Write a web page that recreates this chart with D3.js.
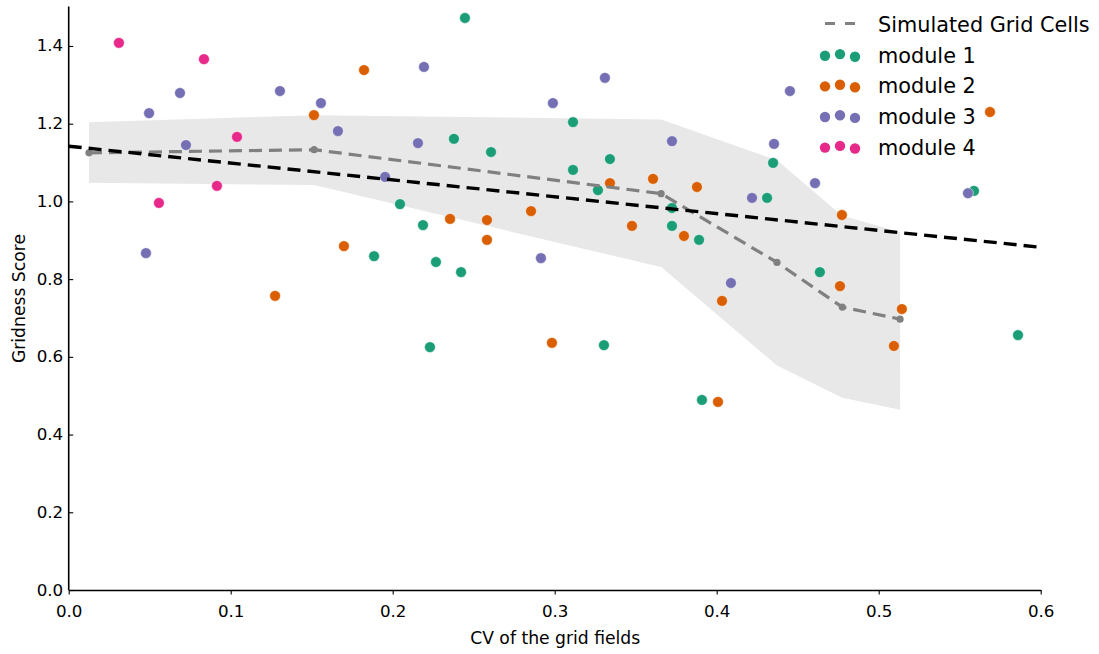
<!DOCTYPE html>
<html>
<head>
<meta charset="utf-8">
<script src="https://cdn.jsdelivr.net/npm/d3@7"></script>
<style>
  html, body { margin: 0; padding: 0; background: #fff; }
  svg { display: block; font-family: "DejaVu Sans", sans-serif; }
</style>
</head>
<body>
<svg id="chart" width="1099" height="654"></svg>
<script>
// Recorded cells: CV of grid fields (x) vs gridness score (y), one pair of arrays per module
const module1X = [0.2446, 0.2378, 0.2607, 0.3113, 0.3341, 0.3113, 0.3267, 0.2045, 0.2187, 0.1885, 0.2267, 0.2422, 0.2230, 0.3304, 0.3724, 0.3724, 0.3891, 0.4348, 0.4311, 0.4637, 0.3909, 0.5588, 0.5860];
const module1Y = [1.472, 1.161, 1.127, 1.204, 1.109, 1.081, 1.029, 0.993, 0.939, 0.859, 0.844, 0.818, 0.625, 0.630, 0.983, 0.937, 0.901, 1.099, 1.009, 0.818, 0.489, 1.027, 0.656];

const module2X = [0.1823, 0.1514, 0.1699, 0.1274, 0.2354, 0.2582, 0.2582, 0.2854, 0.2983, 0.3341, 0.3477, 0.3607, 0.3798, 0.3878, 0.4033, 0.4008, 0.4773, 0.4761, 0.5094, 0.5143, 0.5687];
const module2Y = [1.338, 1.222, 0.885, 0.757, 0.955, 0.952, 0.901, 0.975, 0.636, 1.047, 0.937, 1.058, 0.911, 1.037, 0.744, 0.484, 0.965, 0.782, 0.628, 0.723, 1.230];

const module3X = [0.0496, 0.0687, 0.0724, 0.0477, 0.1304, 0.1557, 0.1662, 0.1953, 0.2156, 0.2193, 0.2989, 0.3310, 0.2915, 0.3724, 0.4218, 0.4088, 0.4452, 0.4354, 0.4607, 0.5551];
const module3Y = [1.227, 1.279, 1.145, 0.867, 1.284, 1.253, 1.181, 1.063, 1.150, 1.346, 1.253, 1.318, 0.854, 1.155, 1.009, 0.790, 1.284, 1.148, 1.047, 1.021];

const module4X = [0.0310, 0.0835, 0.1039, 0.0915, 0.0557];
const module4Y = [1.408, 1.366, 1.166, 1.040, 0.996];

const moduleNames = ["module 1", "module 2", "module 3", "module 4"];
const moduleColors = ["#1b9e77", "#d95f02", "#7570b3", "#e7298a"];

// Simulated grid cells: mean gridness and spread band
const simX = [0.0125, 0.1515, 0.3657, 0.4372, 0.4775, 0.5132];
const simMean = [1.125, 1.133, 1.020, 0.843, 0.728, 0.697];
const simUpper = [1.204, 1.222, 1.211, 1.106, 0.963, 0.921];
const simLower = [1.048, 1.042, 0.831, 0.578, 0.495, 0.464];

// Linear fit through the recorded cells
const fitX = [0.0, 0.6];
const fitY = [1.142, 0.882];

const xTicks = [0.0, 0.1, 0.2, 0.3, 0.4, 0.5, 0.6];
const yTicks = [0.0, 0.2, 0.4, 0.6, 0.8, 1.0, 1.2, 1.4];

const svg = d3.select("#chart");
const x = d3.scaleLinear().domain([0, 0.6]).range([68.7, 1040.7]);
const y = d3.scaleLinear().domain([0, 1.5]).range([590, 7.1]);

// Spread band
const band = d3.area()
  .x(i => x(simX[i]))
  .y0(i => y(simLower[i]))
  .y1(i => y(simUpper[i]));
svg.append("path")
  .attr("d", band(d3.range(simX.length)))
  .attr("fill", "#e8e8e8");

// Recorded cells
const modules = [
  [module1X, module1Y],
  [module2X, module2Y],
  [module3X, module3Y],
  [module4X, module4Y]
];
modules.forEach(([xs, ys], m) => {
  svg.append("g").selectAll("circle")
    .data(d3.range(xs.length))
    .join("circle")
    .attr("cx", i => x(xs[i]))
    .attr("cy", i => y(ys[i]))
    .attr("r", 5.4)
    .attr("fill", moduleColors[m])
    .attr("stroke", "#fff")
    .attr("stroke-width", 0.5);
});

// Simulated mean curve
const line = d3.line().x(i => x(simX[i])).y(i => y(simMean[i]));
svg.append("path")
  .attr("d", line(d3.range(simX.length)))
  .attr("fill", "none")
  .attr("stroke", "#808080")
  .attr("stroke-width", 3.2)
  .attr("stroke-dasharray", "13,7");
svg.append("g").selectAll("circle")
  .data(d3.range(simX.length))
  .join("circle")
  .attr("cx", i => x(simX[i]))
  .attr("cy", i => y(simMean[i]))
  .attr("r", 3.6)
  .attr("fill", "#808080");

// Fit line
const fitLine = d3.line().x(i => x(fitX[i])).y(i => y(fitY[i]));
svg.append("path")
  .attr("d", fitLine(d3.range(fitX.length)))
  .attr("fill", "none")
  .attr("stroke", "#000")
  .attr("stroke-width", 3.4)
  .attr("stroke-dasharray", "13,7");

// Axes
const xAxis = svg.append("g")
  .attr("transform", `translate(0,${y(0)})`)
  .call(d3.axisBottom(x).tickValues(xTicks).tickFormat(d3.format(".1f"))
    .tickSizeInner(4.5).tickSizeOuter(0).tickPadding(11));
const yAxis = svg.append("g")
  .attr("transform", `translate(${x(0)},0)`)
  .call(d3.axisLeft(y).tickValues(yTicks).tickFormat(d3.format(".1f"))
    .tickSizeInner(-4.5).tickSizeOuter(0).tickPadding(5.5));
yAxis.select(".domain").attr("d", `M0,${y(0)}V${y(1.5) - 0.5}`);
yAxis.selectAll(".tick text").attr("dy", "0.3em");
[xAxis, yAxis].forEach(a => {
  a.select(".domain").attr("stroke", "#000").attr("stroke-width", 1.6);
  a.selectAll(".tick line").attr("stroke", "#000").attr("stroke-width", 1.1);
  a.selectAll(".tick text")
    .attr("fill", "#000")
    .style("font-family", "'DejaVu Sans', sans-serif")
    .style("font-size", "16.7px");
});

svg.append("text")
  .attr("x", (x(0) + x(0.6)) / 2 + 0.5)
  .attr("y", 643.5)
  .attr("text-anchor", "middle")
  .style("font-size", "17.2px")
  .text("CV of the grid fields");
svg.append("text")
  .attr("transform", `translate(24.5,${(y(0) + y(1.5)) / 2}) rotate(-90)`)
  .attr("text-anchor", "middle")
  .style("font-size", "17.2px")
  .text("Gridness Score");

// Legend
const legend = svg.append("g");
const legendX = 825;
const textX = 878;
const rowBase = [32, 62.8, 93.4, 124, 154.6];
legend.append("line")
  .attr("x1", legendX).attr("x2", legendX + 30)
  .attr("y1", rowBase[0] - 8.5).attr("y2", rowBase[0] - 8.5)
  .attr("stroke", "#808080").attr("stroke-width", 3.2)
  .attr("stroke-dasharray", "10,10");
legend.append("text")
  .attr("x", textX).attr("y", rowBase[0])
  .style("font-size", "20.8px")
  .text("Simulated Grid Cells");
const dotOffsets = [0.8, -0.9, 1.7];
moduleNames.forEach((name, m) => {
  const cy = rowBase[m + 1] - 7.8;
  legend.append("g").selectAll("circle")
    .data(dotOffsets)
    .join("circle")
    .attr("cx", (d, k) => legendX + k * 15)
    .attr("cy", d => cy + d)
    .attr("r", 5.2)
    .attr("fill", moduleColors[m]);
  legend.append("text")
    .attr("x", textX).attr("y", rowBase[m + 1])
    .style("font-size", "20.8px")
    .text(name);
});
</script>
</body>
</html>
